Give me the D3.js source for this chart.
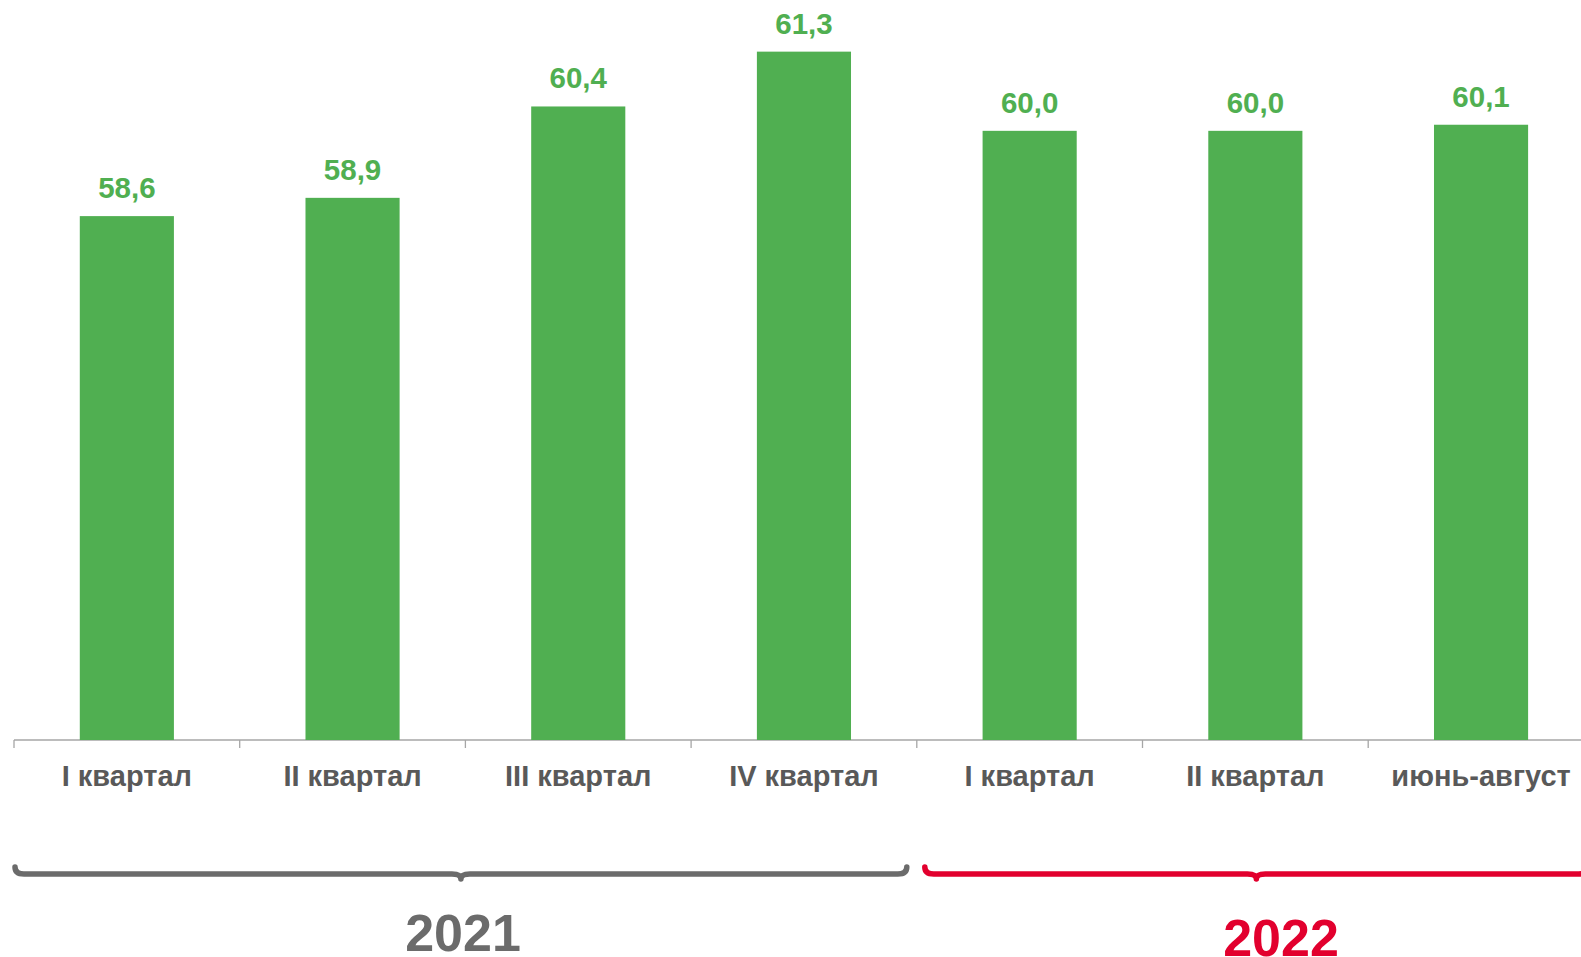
<!DOCTYPE html>
<html>
<head>
<meta charset="utf-8">
<script src="https://cdn.jsdelivr.net/npm/d3@7"></script>
<style>
  body { margin: 0; background: #fff; }
  svg { display: block; font-family: "Liberation Sans", Arial, sans-serif; }
</style>
</head>
<body>
<div id="chart"></div>
<script>
var categories = ["I квартал", "II квартал", "III квартал", "IV квартал", "I квартал", "II квартал", "июнь-август"];
var values = [58.6, 58.9, 60.4, 61.3, 60.0, 60.0, 60.1];
var years = ["2021", "2022"];

var width = 1581,
    height = 957;

var green = "#50af51",
    grey = "#595959",
    braceGrey = "#6b6b6b",
    red = "#e2002e";

var svg = d3.select("#chart").append("svg")
    .attr("width", width)
    .attr("height", height);

// bands run past the right edge, as in the original slide
var x = d3.scaleBand()
    .domain(d3.range(categories.length))
    .range([14, 14 + 225.7 * categories.length])
    .paddingInner(0.583)
    .paddingOuter(0.2915);

var y = d3.scaleLinear()
    .domain([50, 62])
    .range([740, 9]);

var xAxis = d3.axisBottom(x)
    .tickSize(0)
    .tickFormat(function(i) { return categories[i]; });

var bandEdge = function(i) { return x(i) - x.step() * x.paddingOuter(); };

var axis = svg.append("g")
    .attr("transform", "translate(0,740)");

// baseline + tick marks between categories
axis.append("line")
    .attr("x1", 14).attr("x2", width)
    .attr("stroke", "#a6a6a6").attr("stroke-width", 1.3);

axis.selectAll(".sep")
    .data(d3.range(categories.length))
  .enter().append("line")
    .attr("class", "sep")
    .attr("x1", bandEdge)
    .attr("x2", bandEdge)
    .attr("y1", 0).attr("y2", 8)
    .attr("stroke", "#a6a6a6").attr("stroke-width", 1.3);

svg.append("g")
    .selectAll("rect")
    .data(values)
  .enter().append("rect")
    .attr("x", function(d, i) { return x(i); })
    .attr("y", function(d) { return y(d); })
    .attr("width", x.bandwidth())
    .attr("height", function(d) { return y(50) - y(d); })
    .style("fill", green);

svg.append("g")
    .selectAll("text")
    .data(values)
  .enter().append("text")
    .attr("x", function(d, i) { return x(i) + x.bandwidth() / 2; })
    .attr("y", function(d) { return y(d) - 18; })
    .attr("text-anchor", "middle")
    .style("font-size", "29.5px")
    .style("font-weight", "bold")
    .style("fill", green)
    .text(function(d) { return d3.format(".1f")(d).replace(".", ","); });

var labels = svg.append("g")
    .attr("transform", "translate(0,740)")
    .call(xAxis);
labels.select(".domain").remove();
labels.selectAll("text")
    .attr("y", 46)
    .attr("dy", 0)
    .style("font-family", "Liberation Sans, Arial, sans-serif")
    .style("font-size", "29px")
    .style("font-weight", "bold")
    .style("fill", grey);

// curly braces under each year
function brace(x0, x1, yl) {
  var xm = (x0 + x1) / 2;
  return "M" + x0 + "," + (yl - 7) +
    " Q" + x0 + "," + yl + " " + (x0 + 9) + "," + yl +
    " L" + (xm - 9) + "," + yl +
    " Q" + xm + "," + yl + " " + xm + "," + (yl + 5) +
    " Q" + xm + "," + yl + " " + (xm + 9) + "," + yl +
    " L" + (x1 - 9) + "," + yl +
    " Q" + x1 + "," + yl + " " + x1 + "," + (yl - 7);
}

var braceX = [
  [bandEdge(0) + 1, bandEdge(4) - 10],
  [bandEdge(4) + 8, bandEdge(6) + x.step() - 6]
];
var braceColors = [braceGrey, red];
var yearX = [463, 1281];
var yearY = [951, 956];

svg.append("g").selectAll("path")
    .data(years)
  .enter().append("path")
    .attr("d", function(d, i) { return brace(braceX[i][0], braceX[i][1], 874); })
    .style("fill", "none")
    .style("stroke", function(d, i) { return braceColors[i]; })
    .style("stroke-width", 5.5)
    .style("stroke-linecap", "round")
    .style("stroke-linejoin", "round");

svg.append("g").selectAll("text")
    .data(years)
  .enter().append("text")
    .attr("x", function(d, i) { return yearX[i]; })
    .attr("y", function(d, i) { return yearY[i]; })
    .attr("text-anchor", "middle")
    .style("font-size", "52px")
    .style("font-weight", "bold")
    .style("fill", function(d, i) { return braceColors[i]; })
    .text(function(d) { return d; });
</script>
</body>
</html>
